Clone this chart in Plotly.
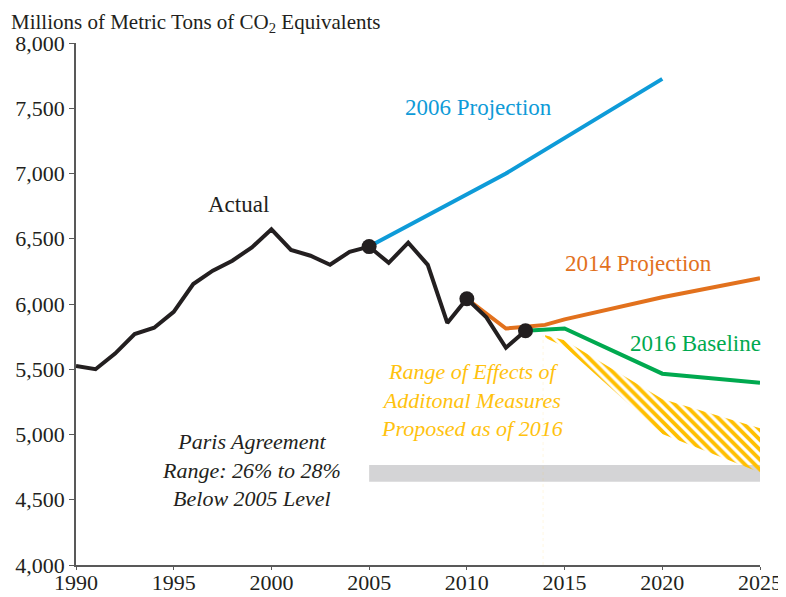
import plotly.graph_objects as go

# ---- data ----
actual_years = list(range(1990, 2014))
actual_vals = [5525, 5500, 5620, 5770, 5818, 5940, 6153, 6255, 6332, 6434,
               6572, 6414, 6370, 6301, 6400, 6440, 6315, 6470, 6300, 5855,
               6040, 5898, 5665, 5795]

proj2006_years = [2005, 2012, 2020]
proj2006_vals = [6440, 7000, 7725]

proj2014_years = [2010, 2012, 2013, 2014, 2015, 2020, 2025]
proj2014_vals = [6040, 5812, 5825, 5840, 5882, 6052, 6198]

base2016_years = [2013, 2014, 2015, 2020, 2025]
base2016_vals = [5795, 5800, 5812, 5466, 5397]

range_years = [2014, 2015, 2020, 2025]
range_upper = [5760, 5722, 5272, 5048]
range_lower = [5742, 5672, 5003, 4708]

paris_years = [2005, 2025]
paris_upper = [4766, 4766]
paris_lower = [4637, 4637]

marker_years = [2005, 2010, 2013]
marker_vals = [6440, 6040, 5795]

y_ticks = [4000, 4500, 5000, 5500, 6000, 6500, 7000, 7500, 8000]
y_tick_labels = ["4,000", "4,500", "5,000", "5,500", "6,000", "6,500", "7,000", "7,500", "8,000"]
x_ticks = [1990, 1995, 2000, 2005, 2010, 2015, 2020, 2025]

BLUE = "#0e9bd8"
ORANGE = "#e2711d"
GREEN = "#00a94f"
YELLOW = "#ffc20e"
GREY = "#d4d4d6"
BLACK = "#231f20"
FONT = "Liberation Serif"

fig = go.Figure()

# Paris range (grey band)
fig.add_trace(go.Scatter(x=paris_years, y=paris_lower, mode="lines",
                         line=dict(width=0), showlegend=False, hoverinfo="skip"))
fig.add_trace(go.Scatter(x=paris_years, y=paris_upper, mode="lines",
                         line=dict(width=0), fill="tonexty", fillcolor=GREY,
                         showlegend=False, hoverinfo="skip"))

# Range of effects (hatched band)
fig.add_trace(go.Scatter(x=range_years, y=range_lower, mode="lines",
                         line=dict(width=0), showlegend=False, hoverinfo="skip"))
fig.add_trace(go.Scatter(x=range_years, y=range_upper, mode="lines",
                         line=dict(width=0), fill="tonexty", fillcolor="rgba(0,0,0,0)",
                         fillpattern=dict(shape="\\", fgcolor="#ffbf00", fgopacity=1,
                                          bgcolor="rgba(255,255,255,0)",
                                          size=7, solidity=0.55, fillmode="overlay"),
                         showlegend=False, hoverinfo="skip"))

# faint dotted vertical at ~2014
fig.add_trace(go.Scatter(x=[2013.9, 2013.9], y=[4000, 5760], mode="lines",
                         line=dict(color="rgba(255,200,60,0.15)", width=1, dash="dot"),
                         showlegend=False, hoverinfo="skip"))

fig.add_trace(go.Scatter(x=proj2006_years, y=proj2006_vals, mode="lines",
                         line=dict(color=BLUE, width=4), showlegend=False))
fig.add_trace(go.Scatter(x=proj2014_years, y=proj2014_vals, mode="lines",
                         line=dict(color=ORANGE, width=4), showlegend=False))
fig.add_trace(go.Scatter(x=base2016_years, y=base2016_vals, mode="lines",
                         line=dict(color=GREEN, width=4), showlegend=False))
fig.add_trace(go.Scatter(x=actual_years, y=actual_vals, mode="lines",
                         line=dict(color=BLACK, width=4), showlegend=False))
fig.add_trace(go.Scatter(x=marker_years, y=marker_vals, mode="markers",
                         marker=dict(color=BLACK, size=15), showlegend=False))

annotations = [
    dict(x=2010.6, y=7502, text="2006 Projection", font=dict(color=BLUE, size=23)),
    dict(x=1998.34, y=6766, text="Actual", font=dict(color=BLACK, size=23)),
    dict(x=2018.76, y=6314, text="2014 Projection", font=dict(color=ORANGE, size=23)),
    dict(x=2021.68, y=5701, text="2016 Baseline", font=dict(color=GREEN, size=23)),
    dict(x=2010.27, y=5264,
         text="<i>Range of Effects of<br>Additonal Measures<br>Proposed as of 2016</i>",
         font=dict(color=YELLOW, size=22)),
    dict(x=1998.96, y=4728,
         text="<i>Paris Agreement<br>Range: 26% to 28%<br>Below 2005 Level</i>",
         font=dict(color=BLACK, size=22)),
]
for a in annotations:
    a.update(xref="x", yref="y", showarrow=False, xanchor="center", yanchor="middle")
    a["font"]["family"] = FONT

annotations.append(dict(xref="paper", yref="paper", x=-67/684, y=1 + 35/522,
                        xanchor="left", yanchor="top", showarrow=False,
                        text="Millions of Metric Tons of CO<sub>2</sub> Equivalents",
                        font=dict(family=FONT, size=21, color=BLACK)))

# page body has an 8px default margin, so the figure is sized to fit the window
fig.update_layout(
    width=778, height=589,
    margin=dict(l=68, r=26, t=35, b=32, autoexpand=False),
    paper_bgcolor="white", plot_bgcolor="white",
    font=dict(family=FONT, size=20, color=BLACK),
    annotations=annotations,
    xaxis=dict(range=[1990, 2025], tickmode="array", tickvals=x_ticks,
               showgrid=False, zeroline=False, showline=True, automargin=False,
               linecolor="#595959", linewidth=1.5, ticks="outside", ticklen=3,
               ticklabeloverflow="allow", ticklabelstandoff=-6,
               tickcolor="#595959", tickfont=dict(family=FONT, size=22, color=BLACK)),
    yaxis=dict(range=[4000, 8000], tickmode="array", tickvals=y_ticks, ticktext=y_tick_labels,
               showgrid=False, zeroline=False, showline=True, automargin=False,
               linecolor="#595959", linewidth=1.5, ticks="outside", ticklen=5,
               ticklabeloverflow="allow",
               tickcolor="#595959", tickfont=dict(family=FONT, size=22, color=BLACK)),
)

fig.write_html("out.html")
